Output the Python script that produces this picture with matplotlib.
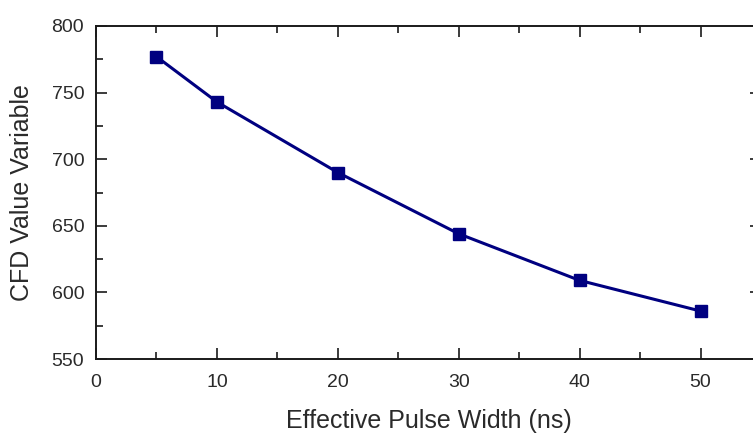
import matplotlib
matplotlib.use("Agg")
import matplotlib.pyplot as plt
from matplotlib.ticker import MultipleLocator

plt.rcParams['font.family'] = ['Liberation Sans', 'DejaVu Sans']

# data
pulse_width = [5, 10, 20, 30, 40, 50]
cfd_value = [777, 743, 690, 644, 609, 586]

fig = plt.figure(figsize=(7.53, 4.34), dpi=100)
ax = fig.add_axes([96 / 753, 75 / 434, 665 / 753, 333 / 434])

ax.plot(pulse_width, cfd_value, color='#000080', lw=2.2,
        marker='s', ms=8, mfc='#000080', mec='#000080')

ax.set_xlim(0, 55)
ax.set_ylim(550, 800)
ax.xaxis.set_major_locator(MultipleLocator(10))
ax.xaxis.set_minor_locator(MultipleLocator(5))
ax.yaxis.set_major_locator(MultipleLocator(50))
ax.yaxis.set_minor_locator(MultipleLocator(25))

txt = '#2a2a2a'
for s in ax.spines.values():
    s.set_linewidth(1.4)
    s.set_color('#1a1a1a')
ax.tick_params(which='both', direction='in', top=True, right=True,
               color='#1a1a1a', labelcolor=txt, labelsize=14)
ax.tick_params(which='major', length=8, width=1.2)
ax.tick_params(which='minor', length=5, width=1.2)
ax.tick_params(axis='y', pad=8.5)
ax.tick_params(axis='x', pad=11)

ax.set_xlabel('Effective Pulse Width (ns)', fontsize=18, color=txt)
ax.set_ylabel('CFD Value Variable', fontsize=18, color=txt)
ax.xaxis.set_label_coords(0.5, -0.15)
ax.yaxis.set_label_coords(-0.093, 0.5)

fig.savefig('out.png', dpi=100)
